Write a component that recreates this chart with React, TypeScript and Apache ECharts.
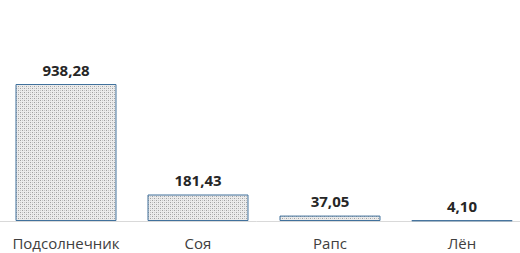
import React, { useEffect, useRef } from "react";
import * as echarts from "echarts";

const categories = ["Подсолнечник", "Соя", "Рапс", "Лён"];
const values = [938.28, 181.43, 37.05, 4.1];

function makePattern(): HTMLCanvasElement {
  const c = document.createElement("canvas");
  c.width = 4;
  c.height = 4;
  const ctx = c.getContext("2d")!;
  ctx.fillStyle = "#ececec";
  ctx.fillRect(0, 0, 4, 4);
  ctx.fillStyle = "#a0a0a0";
  ctx.fillRect(0, 0, 1, 1);
  ctx.fillRect(2, 2, 1, 1);
  ctx.fillStyle = "#c8c8c8";
  ctx.fillRect(2, 0, 1, 1);
  ctx.fillRect(0, 2, 1, 1);
  return c;
}

export default function App() {
  const ref = useRef<HTMLDivElement>(null);
  useEffect(() => {
    const chart = echarts.init(ref.current!, null, { renderer: "svg" });
    const pattern = makePattern();
    chart.setOption({
      animation: false,
      grid: { left: 0, right: 0, top: 75, bottom: 32, containLabel: false },
      xAxis: {
        type: "category",
        data: categories,
        axisLine: { lineStyle: { color: "#d9d9d9", width: 1 } },
        axisTick: { show: false },
        axisLabel: {
          interval: 0,
          hideOverlap: false,
          color: "#404040",
          fontFamily: "Open Sans",
          fontSize: 15,
          margin: 14,
        },
      },
      yAxis: {
        type: "value",
        min: 0,
        max: 1000,
        show: false,
        splitLine: { show: false },
      },
      series: [
        {
          type: "bar",
          data: values,
          barWidth: "76.5%",
          itemStyle: {
            color: { image: pattern, repeat: "repeat" },
            borderColor: "#41719c",
            borderWidth: 1,
          },
          label: {
            show: true,
            position: "top",
            distance: 7,
            color: "#262626",
            fontFamily: "Open Sans",
            fontWeight: "bold",
            fontSize: 15,
            formatter: (p: any) => p.value.toFixed(2).replace(".", ","),
          },
        },
      ],
    });
    return () => chart.dispose();
  }, []);
  return (
    <div
      style={{
        position: "absolute",
        left: 0,
        top: 0,
        width: 520,
        height: 253,
        overflow: "hidden",
      }}
    >
      <div ref={ref} style={{ width: 528, height: 253 }} />
    </div>
  );
}
